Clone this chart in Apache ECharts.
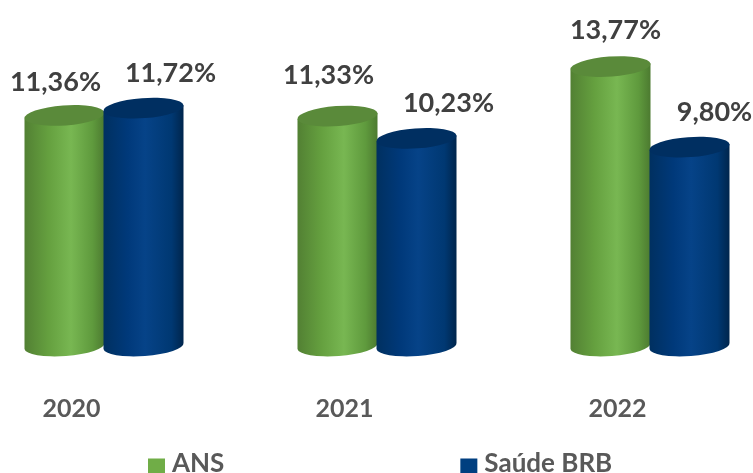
<!DOCTYPE html>
<html>
<head>
<meta charset="utf-8">
<title>ANS x Saúde BRB</title>
<style>
  html, body { margin: 0; padding: 0; background: #fff; }
  #main { width: 753px; height: 473px; }
</style>
<script src="https://cdn.jsdelivr.net/npm/echarts@6/dist/echarts.min.js"></script>
</head>
<body>
<div id="main"></div>
<script>
var years = ["2020", "2021", "2022"];
var ansValues = [11.36, 11.33, 13.77];
var brbValues = [11.72, 10.23, 9.80];

var fontName = "Lato, 'Open Sans', sans-serif";
var halfWidth = 40;
var radiusY = 10;
var tilt = -4;
// quadrado da legenda com folga em cima, para o texto ficar um pouco mais alto
var legendIcon = "path://M0 0L0.01 0M0 5H17V21H0Z";

function gradient(stops) {
  return new echarts.graphic.LinearGradient(0, 0, 1, 0, stops);
}

// desenha um cilindro a partir das coordenadas que o eixo devolve
function cylinder(shift, colors, labelOffsets) {
  return function (params, api) {
    var top = api.coord([api.value(0), api.value(1)]);
    var base = api.coord([api.value(0), 0]);
    var cx = top[0] + shift;
    var lift = 3;
    var left = cx - halfWidth;
    var right = cx + halfWidth;
    var arc = "A" + halfWidth + " " + radiusY + " " + tilt + " ";
    var body = "M" + left + " " + (top[1] + lift) +
      "L" + left + " " + (base[1] + lift) +
      arc + "0 0 " + right + " " + (base[1] - lift) +
      "L" + right + " " + (top[1] - lift) + "Z";
    var lid = "M" + left + " " + (top[1] + lift) +
      arc + "1 1 " + right + " " + (top[1] - lift) +
      arc + "1 1 " + left + " " + (top[1] + lift) + "Z";
    var off = labelOffsets[params.dataIndex];
    return {
      type: "group",
      children: [
        { type: "path", shape: { pathData: body }, style: { fill: gradient(colors.body) } },
        { type: "path", shape: { pathData: lid }, style: { fill: colors.lid } },
        {
          type: "text",
          x: cx + off[0],
          y: top[1] + off[1],
          style: {
            text: api.value(1).toFixed(2).replace(".", ",") + "%",
            font: "bold 27px " + fontName,
            fill: "#404040",
            align: "center",
            verticalAlign: "middle"
          }
        }
      ]
    };
  };
}

var greenColors = {
  lid: "#5a8a3a",
  body: [
    { offset: 0, color: "#528033" },
    { offset: 0.3, color: "#65a03f" },
    { offset: 0.58, color: "#78b752" },
    { offset: 0.85, color: "#5f9a3d" },
    { offset: 1, color: "#4c7a30" }
  ]
};
var blueColors = {
  lid: "#002f61",
  body: [
    { offset: 0, color: "#003060" },
    { offset: 0.3, color: "#00397a" },
    { offset: 0.52, color: "#064388" },
    { offset: 0.85, color: "#003872" },
    { offset: 1, color: "#00254c" }
  ]
};

var myChart = echarts.init(document.getElementById("main"));
myChart.setOption({
  animation: false,
  backgroundColor: "#fff",
  legend: {
    left: 148,
    top: 451,
    itemWidth: 17,
    itemHeight: 21,
    itemGap: 236,
    padding: 0,
    textStyle: { fontFamily: fontName, fontWeight: "bold", fontSize: 26, color: "#595959", padding: [0, 0, 0, 2] },
    data: [
      { name: "ANS", icon: legendIcon, itemStyle: { color: "#70ad47" } },
      { name: "Saúde BRB", icon: legendIcon, itemStyle: { color: "#003f80" } }
    ]
  },
  grid: { left: -32, width: 819, top: 1, height: 345, outerBoundsMode: "none" },
  xAxis: {
    type: "category",
    data: years,
    axisLine: { show: false },
    axisTick: { show: false },
    axisLabel: {
      margin: 50,
      padding: [0, 66, 0, 0],
      fontFamily: fontName,
      fontWeight: "bold",
      fontSize: 25,
      color: "#595959"
    }
  },
  yAxis: { type: "value", min: 0, max: 17, show: false },
  series: [
    {
      name: "ANS",
      type: "custom",
      itemStyle: { color: "#70ad47" },
      encode: { x: 0, y: 1 },
      data: years.map(function (y, i) { return [i, ansValues[i]]; }),
      renderItem: cylinder(-40, greenColors, [[-9, -33], [-9, -41], [5, -36]])
    },
    {
      name: "Saúde BRB",
      type: "custom",
      itemStyle: { color: "#003f80" },
      encode: { x: 0, y: 1 },
      data: years.map(function (y, i) { return [i, brbValues[i]]; }),
      renderItem: cylinder(39, blueColors, [[27, -35], [32, -35], [25, -35]])
    }
  ]
});
</script>
</body>
</html>
